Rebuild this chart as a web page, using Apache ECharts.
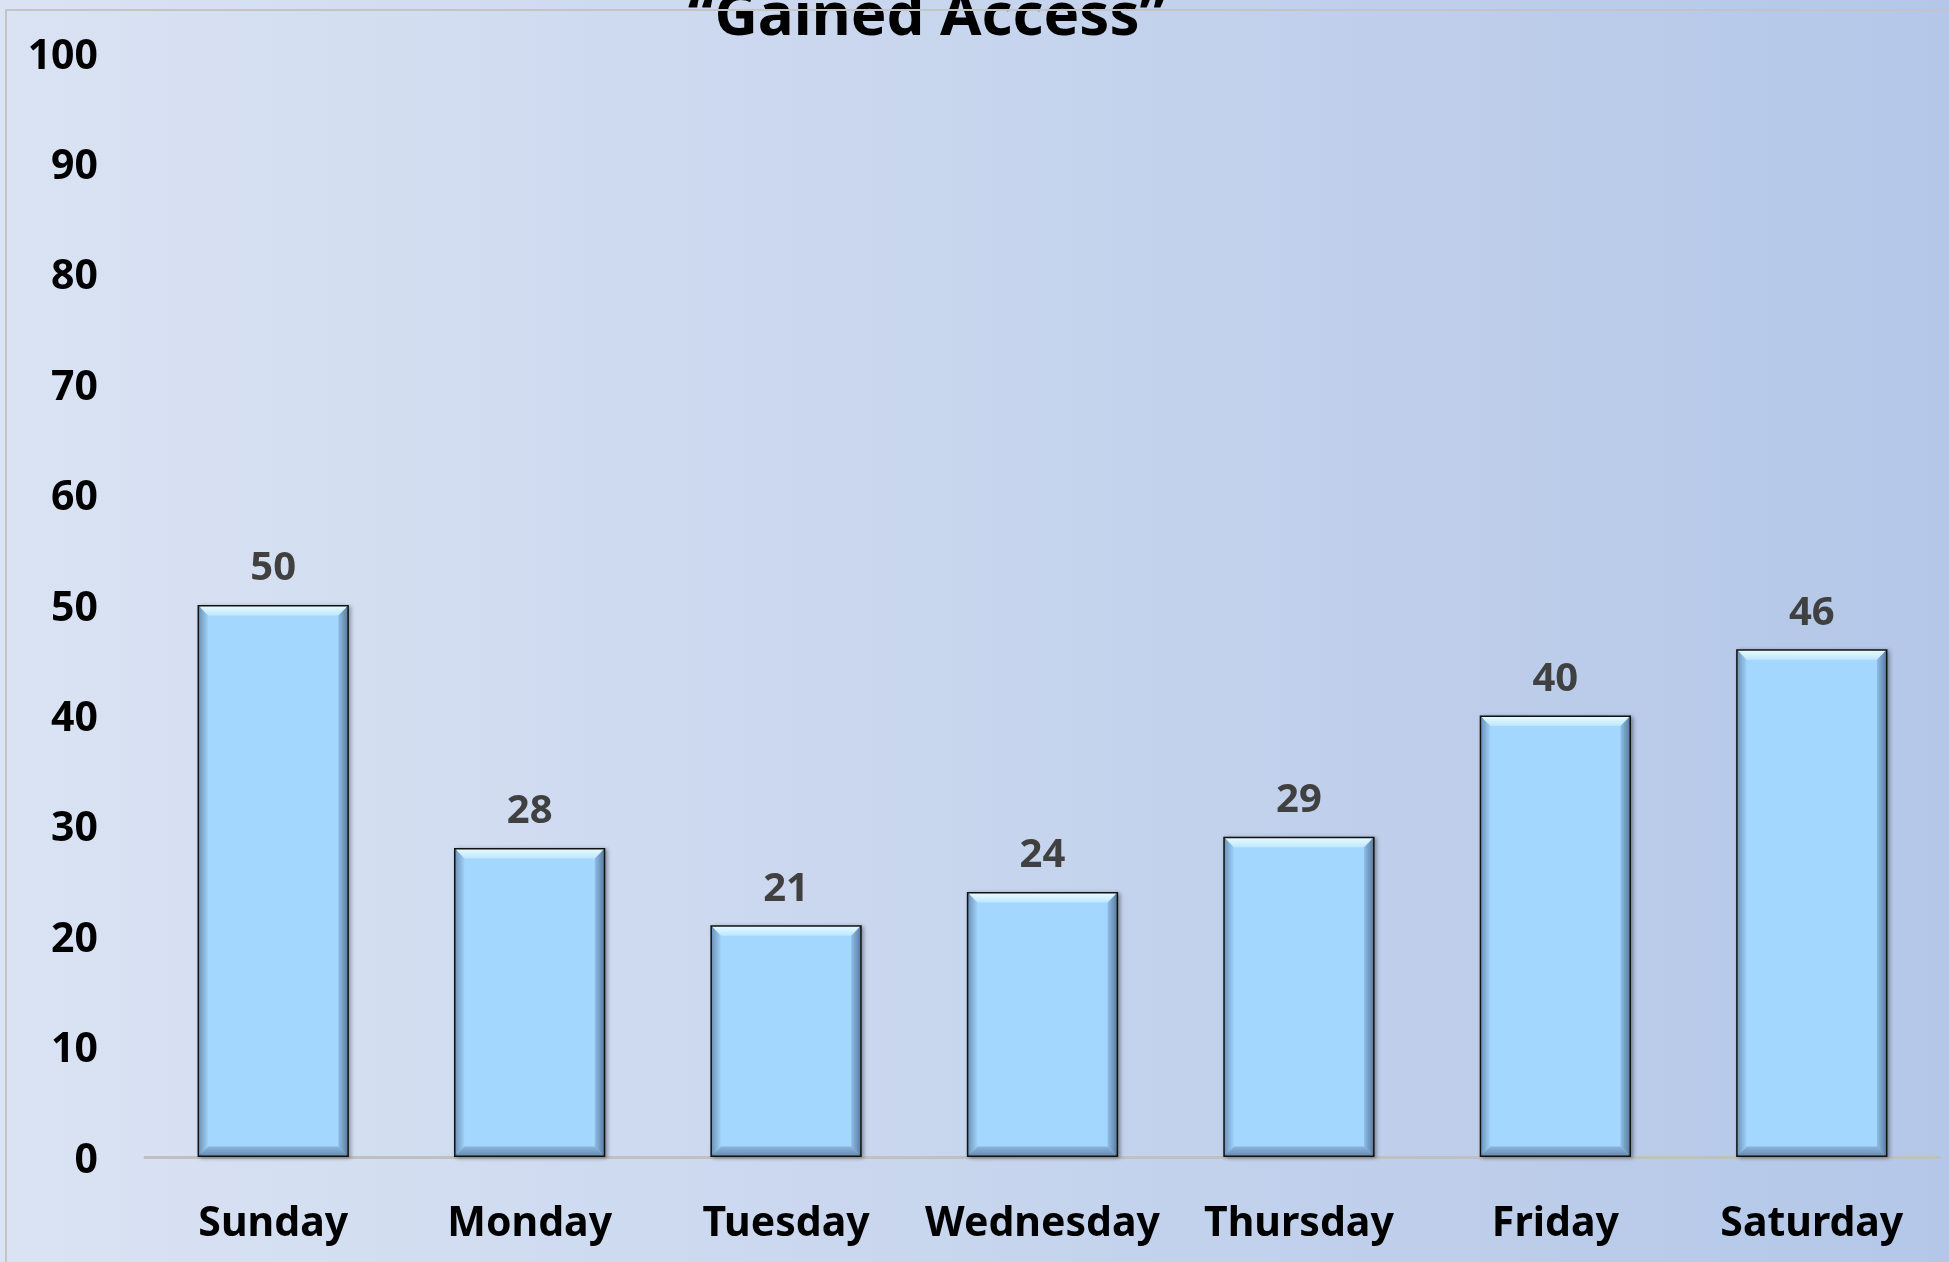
<!DOCTYPE html>
<html>
<head>
<meta charset="utf-8">
<script src="https://cdn.jsdelivr.net/npm/echarts@6/dist/echarts.min.js"></script>
<style>html,body{margin:0;padding:0;}#c{width:1949px;height:1262px;}</style>
</head>
<body>
<div id="c"></div>
<script>
const categories = ['Sunday', 'Monday', 'Tuesday', 'Wednesday', 'Thursday', 'Friday', 'Saturday'];
const values = [50, 28, 21, 24, 29, 40, 46];
const titleText = '\u201CGained Access\u201D';
const yMin = 0, yMax = 100, yStep = 10;

const BAR_RATIO = 0.59;
const chart = echarts.init(document.getElementById('c'));
const font = '"Noto Sans", "Open Sans", sans-serif';

function bevel(params, api) {
  const idx = api.value(0);
  const v = api.value(1);
  const top = api.coord([idx, v]);
  const base = api.coord([idx, 0]);
  const bw = api.size([1, 0])[0] * BAR_RATIO;
  const x0 = top[0] - bw / 2 + 1.5, x1 = top[0] + bw / 2 - 1.5;
  const y0 = top[1] + 1.5, y1 = base[1] - 1.5;
  const b = 9;
  return {
    type: 'group',
    children: [
      { type: 'polygon', shape: { points: [[x0, y0], [x1, y0], [x1 - b, y0 + b], [x0 + b, y0 + b]] },
        style: { fill: new echarts.graphic.LinearGradient(0, 0, 0, 1, [{ offset: 0, color: '#e4fbff' }, { offset: 1, color: '#bfe6ff' }]) } },
      { type: 'polygon', shape: { points: [[x1, y0], [x1, y1], [x1 - b, y1 - b], [x1 - b, y0 + b]] },
        style: { fill: new echarts.graphic.LinearGradient(0, 0, 1, 0, [{ offset: 0, color: '#8fbde6' }, { offset: 1, color: '#5d7fa3' }]) } },
      { type: 'polygon', shape: { points: [[x0, y1], [x1, y1], [x1 - b, y1 - b], [x0 + b, y1 - b]] },
        style: { fill: new echarts.graphic.LinearGradient(0, 0, 0, 1, [{ offset: 0, color: '#8ab5dc' }, { offset: 1, color: '#6a8db2' }]) } },
      { type: 'polygon', shape: { points: [[x0, y0], [x0, y1], [x0 + b, y1 - b], [x0 + b, y0 + b]] },
        style: { fill: new echarts.graphic.LinearGradient(0, 0, 1, 0, [{ offset: 0, color: '#6f95bb' }, { offset: 1, color: '#9fd2f8' }]) } }
    ]
  };
}

chart.setOption({
  backgroundColor: new echarts.graphic.LinearGradient(0, 0, 1, 0, [
    { offset: 0, color: '#dae3f3' },
    { offset: 1, color: '#b4c7e8' }
  ]),
  title: {
    text: titleText,
    left: 922,
    textAlign: 'center',
    top: -17,
    textStyle: { fontFamily: font, fontSize: 60, fontWeight: 'bold', color: '#000' }
  },
  graphic: [{
    type: 'rect', z: 100, silent: true,
    shape: { x: 6, y: 10, width: 1960, height: 1270 },
    style: { fill: 'none', stroke: '#c4c4c4', lineWidth: 2 }
  }],
  grid: { left: 145, right: 9, top: 53, bottom: 105, containLabel: false },
  xAxis: {
    type: 'category',
    data: categories,
    axisLine: { show: true, lineStyle: { color: '#c0c0c0', width: 3 } },
    axisTick: { show: false },
    axisLabel: { interval: 0, margin: 47, fontFamily: font, fontSize: 41, fontWeight: 'bold', color: '#000' },
    splitLine: { show: false }
  },
  yAxis: {
    type: 'value',
    min: yMin, max: yMax, interval: yStep,
    axisLine: { show: false },
    axisTick: { show: false },
    splitLine: { show: false },
    axisLabel: {
      margin: 47,
      formatter: '{a|{value}}',
      rich: { a: { padding: [8, 0, 0, 0], fontFamily: font, fontSize: 41, fontWeight: 'bold', color: '#000' } },
      fontFamily: font, fontSize: 41, fontWeight: 'bold', color: '#000'
    }
  },
  series: [{
    type: 'bar',
    data: values,
    barWidth: (BAR_RATIO * 100) + '%',
    itemStyle: {
      color: '#a3d7fd',
      borderColor: '#111',
      borderWidth: 3,
      shadowColor: 'rgba(0,0,0,0.3)',
      shadowBlur: 4,
      shadowOffsetX: 2,
      shadowOffsetY: 1
    },
    label: {
      show: true, position: 'top', distance: 16,
      fontFamily: font, fontSize: 40, fontWeight: 'bold', color: '#404040'
    }
  }, {
    type: 'custom',
    silent: true,
    z: 3,
    data: values.map((v, i) => [i, v]),
    encode: { x: 0, y: 1 },
    renderItem: bevel
  }]
});
</script>
</body>
</html>
